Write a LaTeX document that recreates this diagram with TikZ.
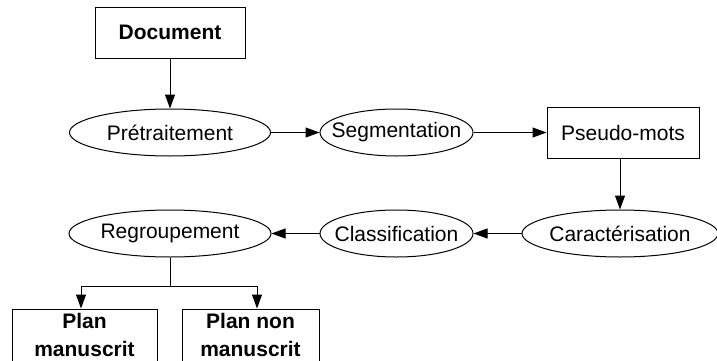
\documentclass[tikz,border=0pt]{standalone}
\usepackage{fontspec}
\setmainfont{Liberation Sans}
\usetikzlibrary{arrows.meta,shapes.geometric}
\newcommand{\ztext}[1]{\makebox[0pt]{#1}}
\begin{document}
\begin{tikzpicture}[x=1pt,y=1pt,
  every node/.style={font=\fontsize{21}{27.5}\selectfont, inner sep=0pt, line width=1pt},
  boxnode/.style={draw, rectangle, minimum height=51pt, align=center},
  ovalnode/.style={draw, ellipse, minimum height=47pt},
  arr/.style={-{Triangle[length=14pt,width=10pt]}, line width=1pt},
  line width=1pt]
\useasboundingbox (0,0) rectangle (717,360);
\node[boxnode, minimum width=150pt, font=\fontsize{21}{27.5}\selectfont\bfseries] (doc) at (170,327.5) {Document};
\node[ovalnode, minimum width=201pt] (pre) at (170,227.5) {\ztext{Prétraitement}};
\node[ovalnode, minimum width=153pt] (seg) at (396.5,227.5) {\ztext{Segmentation}};
\node[boxnode, minimum width=152pt] (pm) at (623,227.5) {Pseudo-mots};
\node[ovalnode, minimum width=196pt] (car) at (620,126.5) {\ztext{Caractérisation}};
\node[ovalnode, minimum width=153pt] (cla) at (396.5,126.5) {\ztext{Classification}};
\node[ovalnode, minimum width=202pt] (reg) at (170,126.5) {\ztext{Regroupement}};
\node[boxnode, minimum width=145pt, minimum height=52pt, font=\fontsize{21}{27.5}\selectfont\bfseries] (pm1) at (84.5,25) {Plan\\manuscrit};
\node[boxnode, minimum width=137pt, minimum height=52pt, font=\fontsize{21}{27.5}\selectfont\bfseries] (pm2) at (250.5,25) {Plan non\\manuscrit};
\coordinate (j) at (170,74);
\coordinate (jl) at (81,74);
\coordinate (jr) at (257,74);
\draw[arr] (doc) -- (pre);
\draw[arr] (pre) -- (seg);
\draw[arr] (seg) -- (pm);
\draw[arr] (pm.south -| car.north) -- (car.north);
\draw[arr] (car) -- (cla);
\draw[arr] (cla) -- (reg);
\draw (reg.south) -- (j);
\draw (jl) -- (jr);
\draw[arr] (jl) -- (jl |- pm1.north);
\draw[arr] (jr) -- (jr |- pm2.north);
\end{tikzpicture}
\end{document}
